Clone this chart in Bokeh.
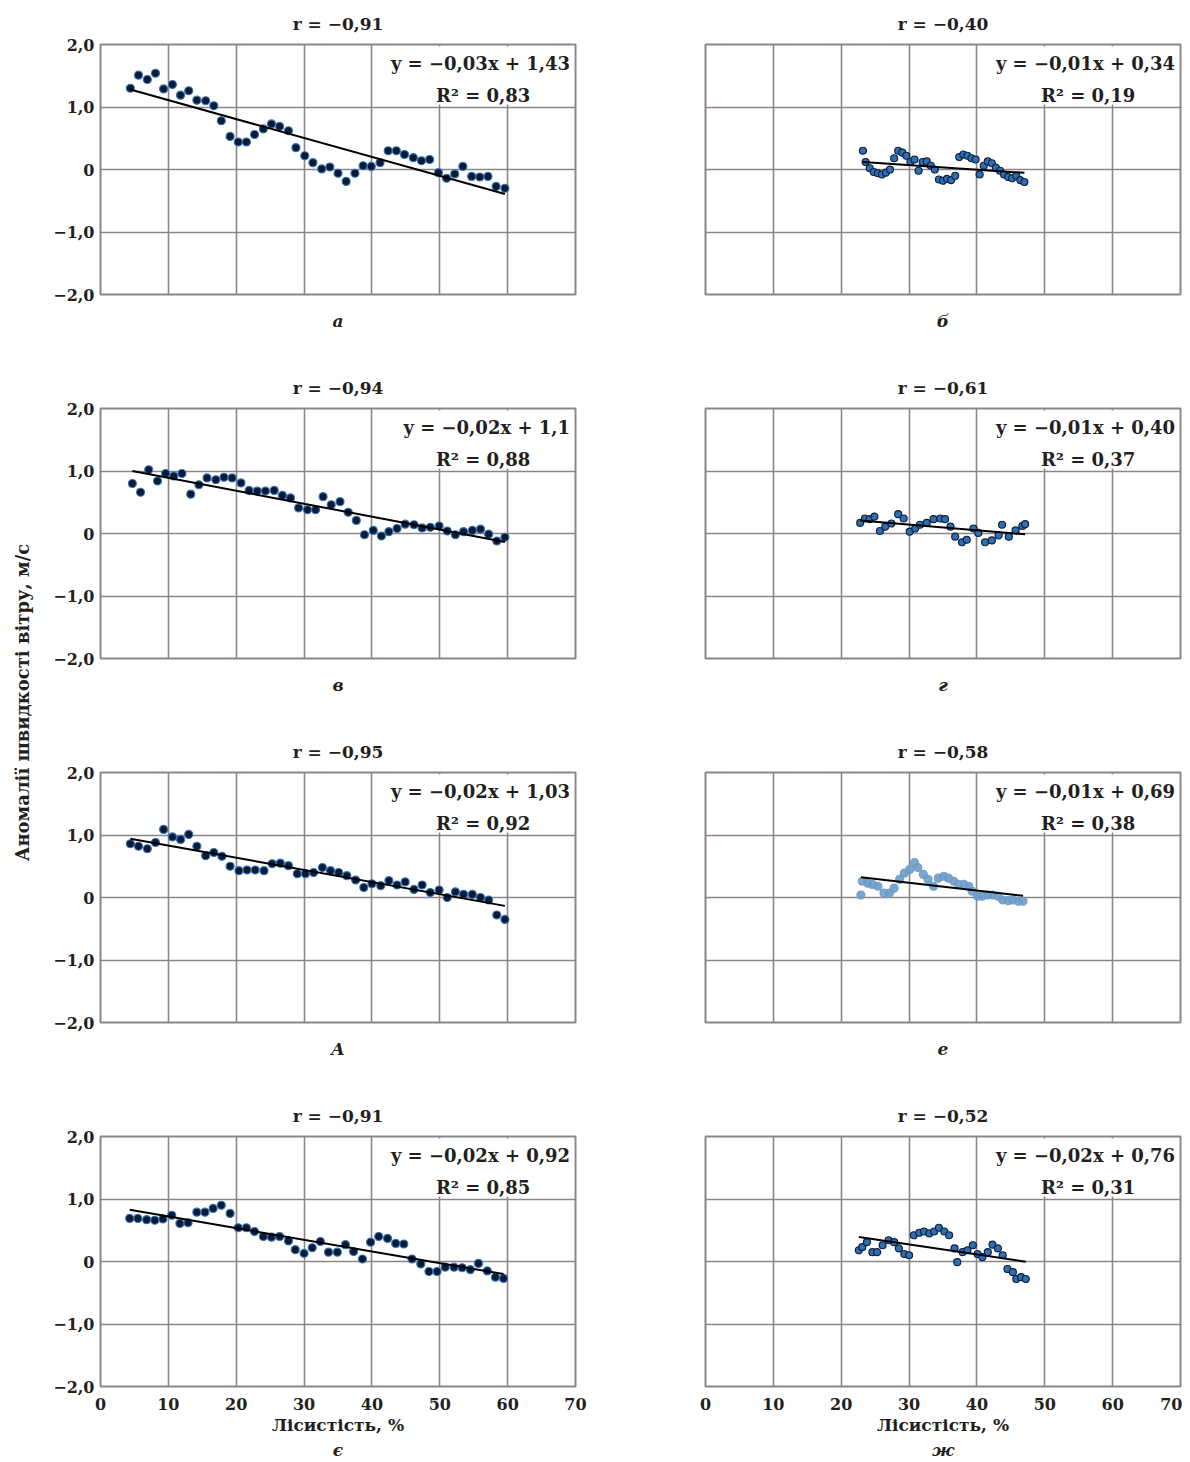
import numpy as np
from bokeh.plotting import figure
from bokeh.models import Range1d, FixedTicker, Label, BoxAnnotation, Title
from bokeh.layouts import row, column
from bokeh.embed import file_html
from bokeh.resources import INLINE

# ---------------- data ----------------
x_a = [4.4, 5.6, 6.9, 8.1, 9.3, 10.6, 11.8, 13.0, 14.2, 15.5, 16.7, 17.8, 19.1, 20.3, 21.5, 22.7,
       24.0, 25.2, 26.4, 27.7, 28.8, 30.1, 31.3, 32.6, 33.8, 35.0, 36.2, 37.5, 38.7, 39.9, 41.2,
       42.4, 43.6, 44.8, 46.1, 47.3, 48.5, 49.8, 51.0, 52.2, 53.4, 54.7, 55.9, 57.1, 58.3, 59.6]
y_a = [1.30, 1.51, 1.44, 1.54, 1.29, 1.36, 1.19, 1.26, 1.11, 1.10, 1.02, 0.78, 0.53, 0.44, 0.44, 0.56,
       0.65, 0.73, 0.69, 0.62, 0.35, 0.22, 0.11, 0.01, 0.04, -0.06, -0.19, -0.06, 0.06, 0.05, 0.11,
       0.30, 0.30, 0.24, 0.19, 0.14, 0.16, -0.05, -0.14, -0.07, 0.05, -0.11, -0.12, -0.11, -0.27, -0.30]

x_b = [23.2, 23.6, 24.2, 24.8, 25.4, 26.0, 26.6, 27.2, 27.8, 28.4, 29.0, 29.6, 30.2, 30.8, 31.4, 32.0,
       32.6, 33.2, 33.8, 34.4, 35.0, 35.6, 36.2, 36.8, 37.4, 38.0, 38.6, 39.2, 39.8, 40.4, 41.0, 41.6,
       42.2, 42.8, 43.4, 44.0, 44.6, 45.2, 45.8, 46.4, 47.0]
y_b = [0.30, 0.12, 0.02, -0.04, -0.06, -0.08, -0.05, 0.00, 0.18, 0.30, 0.27, 0.22, 0.12, 0.16, -0.02, 0.12,
       0.13, 0.06, 0.00, -0.16, -0.18, -0.15, -0.17, -0.10, 0.20, 0.24, 0.22, 0.18, 0.16, -0.08, 0.06, 0.13,
       0.10, 0.03, -0.02, -0.08, -0.12, -0.14, -0.10, -0.17, -0.20]

x_v = [4.7, 5.9, 7.1, 8.4, 9.6, 10.8, 12.0, 13.3, 14.5, 15.7, 17.0, 18.2, 19.4, 20.7, 21.9, 23.1,
       24.3, 25.6, 26.8, 28.0, 29.2, 30.5, 31.7, 32.8, 34.0, 35.3, 36.5, 37.7, 38.9, 40.2, 41.4,
       42.5, 43.7, 44.9, 46.2, 47.4, 48.6, 49.9, 51.1, 52.3, 53.5, 54.8, 56.0, 57.2, 58.4, 59.6]
y_v = [0.80, 0.66, 1.02, 0.84, 0.96, 0.92, 0.96, 0.63, 0.78, 0.89, 0.86, 0.90, 0.89, 0.81, 0.69, 0.68,
       0.68, 0.69, 0.61, 0.57, 0.41, 0.38, 0.38, 0.59, 0.46, 0.51, 0.34, 0.21, -0.02, 0.05, -0.04,
       0.03, 0.08, 0.15, 0.14, 0.09, 0.10, 0.12, 0.04, -0.02, 0.03, 0.05, 0.07, -0.01, -0.12, -0.06]

x_g = [22.8, 23.5, 24.2, 24.9, 25.7, 26.5, 27.4, 28.4, 29.2, 30.1, 30.9, 31.6, 32.6, 33.6, 34.6,
       35.3, 36.1, 36.8, 37.8, 38.5, 39.5, 40.2, 41.2, 42.2, 43.2, 43.7, 44.7, 45.7, 46.7, 47.1]
y_g = [0.17, 0.24, 0.23, 0.27, 0.04, 0.11, 0.16, 0.31, 0.24, 0.03, 0.08, 0.14, 0.17, 0.23, 0.24,
       0.23, 0.11, -0.05, -0.14, -0.10, 0.08, 0.01, -0.14, -0.11, -0.03, 0.14, -0.05, 0.05, 0.12, 0.15]

x_A = [4.4, 5.6, 6.9, 8.1, 9.3, 10.6, 11.8, 13.0, 14.2, 15.5, 16.7, 17.9, 19.1, 20.4, 21.6, 22.8,
       24.1, 25.3, 26.5, 27.7, 29.0, 30.2, 31.4, 32.7, 33.9, 35.1, 36.3, 37.6, 38.8, 40.0, 41.3,
       42.5, 43.7, 44.9, 46.2, 47.4, 48.6, 49.9, 51.1, 52.3, 53.5, 54.8, 56.0, 57.2, 58.4, 59.6]
y_A = [0.86, 0.82, 0.78, 0.88, 1.09, 0.97, 0.93, 1.01, 0.82, 0.67, 0.72, 0.66, 0.50, 0.43, 0.44, 0.44,
       0.43, 0.54, 0.55, 0.51, 0.38, 0.38, 0.40, 0.48, 0.43, 0.40, 0.35, 0.28, 0.16, 0.22, 0.19,
       0.27, 0.20, 0.25, 0.13, 0.20, 0.08, 0.12, 0.00, 0.09, 0.05, 0.05, 0.00, -0.04, -0.28, -0.35]

x_e = [22.9, 23.1, 23.9, 24.6, 25.4, 26.3, 27.1, 27.8, 28.6, 29.3, 30.1, 30.8, 31.3, 32.1, 32.8,
       33.6, 34.3, 35.1, 35.8, 36.6, 37.3, 38.1, 38.8, 39.3, 40.1, 40.8, 41.6, 42.3, 43.1, 43.8,
       44.6, 45.3, 46.1, 46.8]
y_e = [0.04, 0.26, 0.23, 0.21, 0.18, 0.07, 0.07, 0.15, 0.29, 0.39, 0.45, 0.56, 0.48, 0.37, 0.29,
       0.18, 0.31, 0.34, 0.31, 0.26, 0.21, 0.21, 0.18, 0.10, 0.02, 0.02, 0.04, 0.04, 0.02, -0.04,
       -0.05, -0.04, -0.06, -0.06]

x_ye = [4.3, 5.5, 6.8, 8.0, 9.2, 10.5, 11.7, 12.9, 14.2, 15.4, 16.6, 17.8, 19.1, 20.3, 21.5, 22.7,
        24.0, 25.2, 26.4, 27.7, 28.7, 30.0, 31.2, 32.4, 33.6, 34.9, 36.1, 37.3, 38.6, 39.8, 41.0,
        42.3, 43.5, 44.7, 45.9, 47.2, 48.4, 49.6, 50.8, 52.1, 53.3, 54.5, 55.7, 57.0, 58.2, 59.4]
y_ye = [0.69, 0.69, 0.67, 0.66, 0.68, 0.74, 0.61, 0.62, 0.79, 0.79, 0.85, 0.90, 0.77, 0.54, 0.54, 0.48,
        0.40, 0.39, 0.40, 0.33, 0.19, 0.13, 0.22, 0.32, 0.15, 0.15, 0.27, 0.16, 0.04, 0.31, 0.40,
        0.37, 0.29, 0.28, 0.04, -0.04, -0.16, -0.16, -0.09, -0.09, -0.10, -0.13, -0.03, -0.15, -0.25, -0.27]

x_zh = [22.6, 23.1, 23.8, 24.6, 25.3, 26.1, 27.0, 27.8, 28.5, 29.3, 30.0, 30.7, 31.5, 32.2, 33.0,
        33.7, 34.4, 35.2, 35.9, 36.7, 37.1, 37.9, 38.6, 39.4, 40.1, 40.8, 41.6, 42.3, 43.1, 43.8,
        44.5, 45.3, 45.8, 46.5, 47.2]
y_zh = [0.18, 0.23, 0.31, 0.15, 0.15, 0.26, 0.34, 0.31, 0.21, 0.12, 0.10, 0.42, 0.46, 0.48, 0.45,
        0.48, 0.54, 0.48, 0.42, 0.21, -0.01, 0.15, 0.18, 0.26, 0.12, 0.07, 0.15, 0.27, 0.21, 0.10,
        -0.12, -0.17, -0.28, -0.25, -0.28]

r_titles = ["r = −0,91", "r = −0,40", "r = −0,94", "r = −0,61",
            "r = −0,95", "r = −0,58", "r = −0,91", "r = −0,52"]
letters = ["а", "б", "в", "г", "А", "е", "є", "ж"]
equations = ["y = −0,03x + 1,43", "y = −0,01x + 0,34", "y = −0,02x + 1,1", "y = −0,01x + 0,40",
             "y = −0,02x + 1,03", "y = −0,01x + 0,69", "y = −0,02x + 0,92", "y = −0,02x + 0,76"]
r2_texts = ["R² = 0,83", "R² = 0,19", "R² = 0,88", "R² = 0,37",
            "R² = 0,92", "R² = 0,38", "R² = 0,85", "R² = 0,31"]
x_ticks = [0, 10, 20, 30, 40, 50, 60, 70]
y_ticks = [-2, -1, 0, 1, 2]
y_tick_labels = ["−2,0", "−1,0", "0", "1,0", "2,0"]
x_title = "Лісистість, %"
y_title = "Аномалії швидкості вітру, м/с"

xs_all = [x_a, x_b, x_v, x_g, x_A, x_e, x_ye, x_zh]
ys_all = [y_a, y_b, y_v, y_g, y_A, y_e, y_ye, y_zh]

FONT = "DejaVu Serif"
GRID = "#8e8686"
TXT = "#231f20"

FRAME_W, FRAME_H = 475, 250
TOP0 = 43          # top border of first row
TOPN = 59          # top border of other rows
BOT = 55           # bottom border of rows 1-3
BOTL = 68          # bottom border of last row


def make_panel(i):
    col = i % 2
    r = i // 2
    left = col == 0
    bottom = r == 3
    top_b = TOP0 if r == 0 else TOPN
    bot_b = BOTL if bottom else BOT
    p = figure(frame_width=FRAME_W, frame_height=FRAME_H,
               x_range=Range1d(0, 70), y_range=Range1d(-2, 2),
               output_backend="svg", toolbar_location=None,
               min_border_left=52 if left else 65,
               min_border_right=65 if left else 2,
               min_border_top=top_b, min_border_bottom=bot_b,
               background_fill_color="white", border_fill_color="white")
    p.title.text = r_titles[i]
    p.title.align = "center"
    p.title.text_font = FONT
    p.title.text_font_style = "bold"
    p.title.text_font_size = "17px"
    p.title.text_color = TXT
    p.title.standoff = 22

    p.outline_line_color = GRID
    p.outline_line_width = 2

    for ax in (p.xaxis[0], p.yaxis[0]):
        ax.axis_line_color = None
        ax.major_tick_line_color = None
        ax.minor_tick_line_color = None
        ax.major_tick_out = 0
        ax.major_tick_in = 0
        ax.major_label_text_font = FONT
        ax.major_label_text_font_style = "bold"
        ax.major_label_text_font_size = "16px"
        ax.major_label_text_color = TXT
        ax.axis_label_text_font = FONT
        ax.axis_label_text_color = TXT

    # grids have their own tickers; axes only get ticks where labels are shown
    p.xgrid.ticker = FixedTicker(ticks=x_ticks)
    p.ygrid.ticker = FixedTicker(ticks=y_ticks)
    p.xaxis.ticker = FixedTicker(ticks=x_ticks if bottom else [])
    p.yaxis.ticker = FixedTicker(ticks=y_ticks if left else [])
    p.yaxis.major_label_overrides = {t: l for t, l in zip(y_ticks, y_tick_labels)}
    p.yaxis.major_label_standoff = 6

    if bottom:
        p.xaxis.major_label_standoff = 11
        p.xaxis.axis_label = x_title
        p.xaxis.axis_label_text_font_style = "bold"
        p.xaxis.axis_label_text_font_size = "17px"
        p.xaxis.axis_label_standoff = 2
        p.add_layout(Title(text=letters[i], align="center", text_font=FONT,
                           text_font_style="bold italic", text_font_size="17px",
                           text_color=TXT, standoff=0), "below")
    else:
        p.xaxis.axis_label = letters[i]
        p.xaxis.axis_label_text_font_style = "bold italic"
        p.xaxis.axis_label_text_font_size = "17px"
        p.xaxis.axis_label_standoff = 16

    p.xgrid.grid_line_color = GRID
    p.ygrid.grid_line_color = GRID
    p.xgrid.grid_line_width = 1.6
    p.ygrid.grid_line_width = 1.6

    # white box behind the regression equation
    p.add_layout(BoxAnnotation(left=41, right=69.8, bottom=1.04, top=1.97,
                               fill_color="white", fill_alpha=1.0, line_color=None,
                               level="underlay"))

    xs = np.array(xs_all[i])
    ys = np.array(ys_all[i])

    if col == 0:
        fill, line, size, alpha = "#0c1a33", "#3573b8", 8, 1.0
    elif i == 5:
        fill, line, size, alpha = "#6d9cc9", "#6d9cc9", 8, 0.9
    else:
        fill, line, size, alpha = "#2f6eb0", "#0d2240", 7, 1.0
    p.scatter(xs, ys, size=size, fill_color=fill, line_color=line, line_width=1.2,
              fill_alpha=alpha, line_alpha=alpha)

    k, b = np.polyfit(xs, ys, 1)
    lx = np.array([xs.min(), xs.max()])
    p.line(lx, k * lx + b, line_color="black", line_width=2)

    p.add_layout(Label(x=69.2, y=1.70, text=equations[i], text_align="right",
                       text_baseline="middle", text_font=FONT, text_font_style="bold",
                       text_font_size="18px", text_color=TXT))
    p.add_layout(Label(x=56.4, y=1.18, text=r2_texts[i], text_align="center",
                       text_baseline="middle", text_font=FONT, text_font_style="bold",
                       text_font_size="18px", text_color=TXT))
    return p


panels = [make_panel(i) for i in range(8)]
rows = [row(panels[2 * k], panels[2 * k + 1]) for k in range(4)]
grid = column(*rows)

TOTAL_H = TOP0 + FRAME_H + BOT + 2 * (TOPN + FRAME_H + BOT) + TOPN + FRAME_H + BOTL
ylab = figure(width=48, height=TOTAL_H, x_range=Range1d(0, 48), y_range=Range1d(0, TOTAL_H),
              output_backend="svg", toolbar_location=None,
              min_border_left=0, min_border_right=0, min_border_top=0, min_border_bottom=0)
ylab.axis.visible = False
ylab.grid.visible = False
ylab.outline_line_color = None
ylab.add_layout(Label(x=22, y=TOTAL_H - 702, text=y_title, angle=np.pi / 2,
                      text_align="center", text_baseline="middle", text_font=FONT,
                      text_font_style="bold", text_font_size="18px", text_color=TXT))

layout = row(ylab, grid)
open("out.html", "w").write(file_html(layout, INLINE))
